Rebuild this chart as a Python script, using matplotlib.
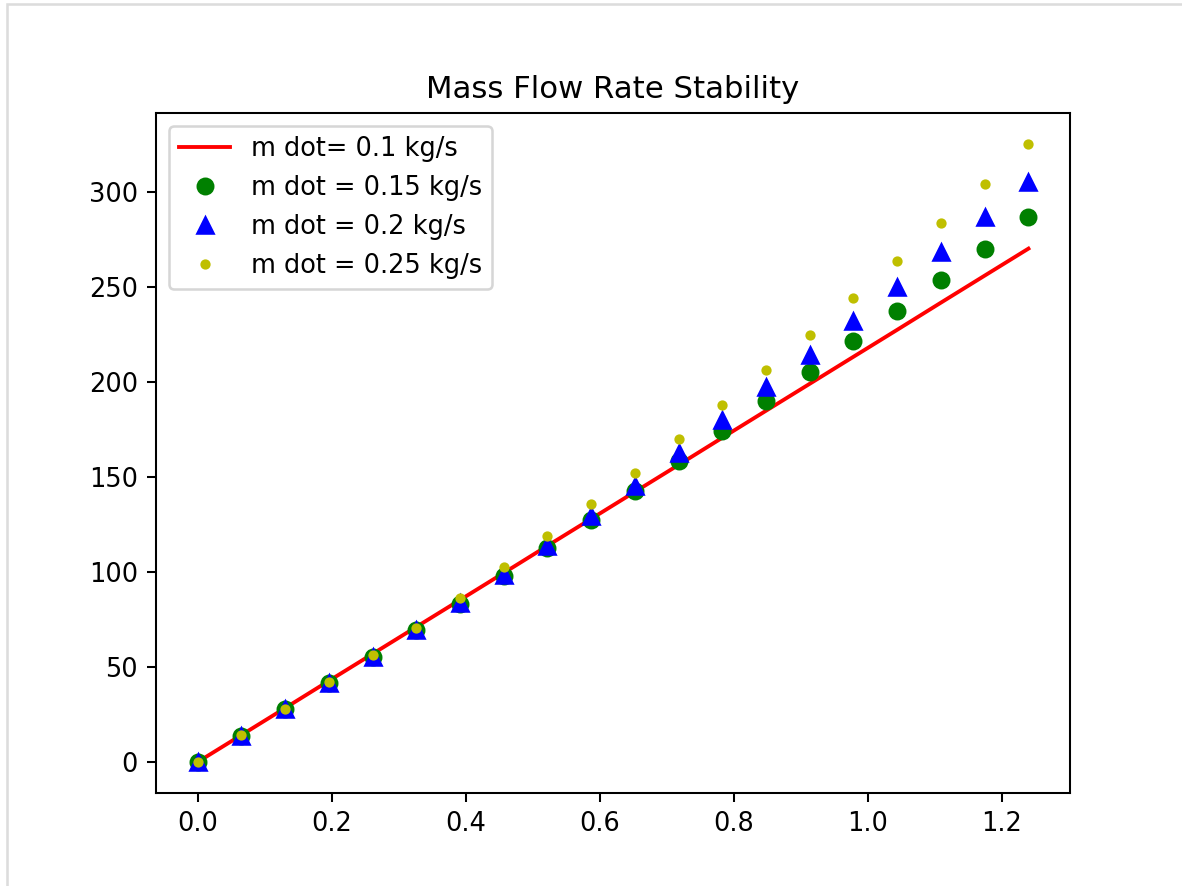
import matplotlib
matplotlib.use("Agg")
import matplotlib.pyplot as plt
from matplotlib.patches import Rectangle

x = [0.0, 0.0653, 0.1305, 0.1958, 0.2611, 0.3263, 0.3916, 0.4568, 0.5221, 0.5874,
     0.6526, 0.7179, 0.7832, 0.8484, 0.9137, 0.9789, 1.0442, 1.1095, 1.1747, 1.24]
m_010 = [0.0, 14.2, 28.4, 42.7, 56.9, 71.1, 85.3, 99.5, 113.8, 128.0,
         142.2, 156.4, 170.7, 184.9, 199.1, 213.3, 227.5, 241.8, 256.0, 270.2]
m_015 = [0.0, 13.8, 27.8, 41.7, 55.5, 69.5, 83.3, 97.8, 112.6, 127.2,
         142.5, 158.3, 174.0, 190.0, 205.4, 221.7, 237.3, 253.9, 270.0, 286.8]
m_020 = [0.0, 13.8, 27.8, 41.7, 55.5, 69.6, 83.6, 98.3, 113.6, 129.3,
         145.5, 162.9, 180.2, 197.3, 214.4, 232.3, 249.9, 268.2, 286.6, 305.1]
m_025 = [0.0, 14.0, 28.0, 42.0, 56.3, 70.8, 86.5, 102.9, 119.2, 135.8,
         152.3, 169.9, 188.0, 206.3, 224.7, 244.3, 263.5, 283.6, 304.1, 325.3]
labels = ["m dot= 0.1 kg/s", "m dot = 0.15 kg/s", "m dot = 0.2 kg/s", "m dot = 0.25 kg/s"]

W, H = 1182, 886
dpi = 184.7
fig = plt.figure(figsize=(W / dpi, H / dpi), dpi=dpi)
ax = fig.add_axes([156 / W, 1 - 793 / H, (1070 - 156) / W, (793 - 113) / H])

ax.plot(x, m_010, 'r-', label=labels[0])
ax.plot(x, m_015, 'go', label=labels[1])
ax.plot(x, m_020, 'b^', label=labels[2])
ax.plot(x, m_025, 'y.', label=labels[3])
ax.set_title("Mass Flow Rate Stability")
ax.legend(loc="upper left")

fig.add_artist(Rectangle((7 / W, -0.1), 1.2, 1 - 4 / H + 0.1, transform=fig.transFigure,
                         fill=False, edgecolor="#dcdcdc", linewidth=1.0, clip_on=False))

fig.savefig("out.png", dpi=dpi)
